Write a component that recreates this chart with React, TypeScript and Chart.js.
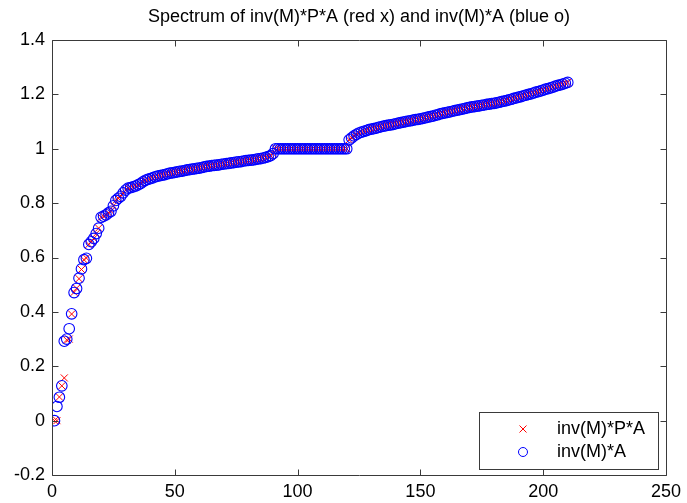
import React, { useEffect, useRef } from "react";
import { Chart, registerables } from "chart.js";

Chart.register(...registerables);

const TITLE = "Spectrum of inv(M)*P*A (red x) and inv(M)*A (blue o)";
const seriesLabels = ["inv(M)*P*A", "inv(M)*A"];
const xRange = [0, 250];
const xStep = 50;
const yRange = [-0.2, 1.4];
const yStep = 0.2;

// inv(M)*P*A  (red x)
const redValues = [
  0.000, 0.000, 0.087, 0.128, 0.157, 0.297, 0.300, 0.392, 0.472, 0.487,
  0.522, 0.556, 0.592, 0.598, 0.648, 0.658, 0.670, 0.688, 0.708, 0.748,
  0.752, 0.757, 0.764, 0.770, 0.790, 0.810, 0.818, 0.825, 0.838, 0.848,
  0.855, 0.857, 0.860, 0.863, 0.867, 0.872, 0.878, 0.884, 0.887, 0.890,
  0.893, 0.897, 0.899, 0.901, 0.903, 0.905, 0.908, 0.910, 0.911, 0.913,
  0.915, 0.917, 0.918, 0.920, 0.922, 0.923, 0.925, 0.926, 0.928, 0.929,
  0.931, 0.933, 0.935, 0.936, 0.938, 0.939, 0.940, 0.941, 0.943, 0.944,
  0.945, 0.946, 0.948, 0.949, 0.951, 0.952, 0.953, 0.955, 0.956, 0.957,
  0.958, 0.959, 0.961, 0.963, 0.964, 0.966, 0.968, 0.971, 0.975, 0.982,
  1.000, 1.000, 1.000, 1.000, 1.000, 1.000, 1.000, 1.000, 1.000, 1.000,
  1.000, 1.000, 1.000, 1.000, 1.000, 1.000, 1.000, 1.000, 1.000, 1.000,
  1.000, 1.000, 1.000, 1.000, 1.000, 1.000, 1.000, 1.000, 1.000, 1.000,
  1.033, 1.040, 1.047, 1.053, 1.058, 1.061, 1.064, 1.067, 1.070, 1.072,
  1.074, 1.076, 1.079, 1.081, 1.083, 1.085, 1.087, 1.088, 1.090, 1.092,
  1.094, 1.096, 1.098, 1.100, 1.102, 1.103, 1.105, 1.107, 1.108, 1.110,
  1.112, 1.114, 1.116, 1.118, 1.120, 1.123, 1.125, 1.128, 1.130, 1.132,
  1.134, 1.136, 1.138, 1.140, 1.142, 1.144, 1.146, 1.148, 1.150, 1.152,
  1.154, 1.155, 1.157, 1.158, 1.160, 1.161, 1.163, 1.164, 1.166, 1.167,
  1.169, 1.171, 1.173, 1.175, 1.177, 1.180, 1.182, 1.185, 1.187, 1.190,
  1.192, 1.195, 1.197, 1.200, 1.202, 1.205, 1.208, 1.210, 1.213, 1.216,
  1.219, 1.221, 1.224, 1.227, 1.230, 1.233, 1.235, 1.238, 1.241, 1.244,
];

// inv(M)*A  (blue o)
const blueValues = [
  0.000, 0.052, 0.086, 0.128, 0.292, 0.300, 0.338, 0.393, 0.471, 0.486,
  0.524, 0.558, 0.592, 0.597, 0.648, 0.658, 0.670, 0.688, 0.708, 0.748,
  0.752, 0.757, 0.764, 0.770, 0.790, 0.810, 0.818, 0.825, 0.838, 0.848,
  0.855, 0.857, 0.860, 0.863, 0.867, 0.872, 0.878, 0.884, 0.887, 0.890,
  0.893, 0.897, 0.899, 0.901, 0.903, 0.905, 0.908, 0.910, 0.911, 0.913,
  0.915, 0.917, 0.918, 0.920, 0.922, 0.923, 0.925, 0.926, 0.928, 0.929,
  0.931, 0.933, 0.935, 0.936, 0.938, 0.939, 0.940, 0.941, 0.943, 0.944,
  0.945, 0.946, 0.948, 0.949, 0.951, 0.952, 0.953, 0.955, 0.956, 0.957,
  0.958, 0.959, 0.961, 0.963, 0.964, 0.966, 0.968, 0.971, 0.975, 0.982,
  1.000, 1.000, 1.000, 1.000, 1.000, 1.000, 1.000, 1.000, 1.000, 1.000,
  1.000, 1.000, 1.000, 1.000, 1.000, 1.000, 1.000, 1.000, 1.000, 1.000,
  1.000, 1.000, 1.000, 1.000, 1.000, 1.000, 1.000, 1.000, 1.000, 1.000,
  1.033, 1.040, 1.047, 1.053, 1.058, 1.061, 1.064, 1.067, 1.070, 1.072,
  1.074, 1.076, 1.079, 1.081, 1.083, 1.085, 1.087, 1.088, 1.090, 1.092,
  1.094, 1.096, 1.098, 1.100, 1.102, 1.103, 1.105, 1.107, 1.108, 1.110,
  1.112, 1.114, 1.116, 1.118, 1.120, 1.123, 1.125, 1.128, 1.130, 1.132,
  1.134, 1.136, 1.138, 1.140, 1.142, 1.144, 1.146, 1.148, 1.150, 1.152,
  1.154, 1.155, 1.157, 1.158, 1.160, 1.161, 1.163, 1.164, 1.166, 1.167,
  1.169, 1.171, 1.173, 1.175, 1.177, 1.180, 1.182, 1.185, 1.187, 1.190,
  1.192, 1.195, 1.197, 1.200, 1.202, 1.205, 1.208, 1.210, 1.213, 1.216,
  1.219, 1.221, 1.224, 1.227, 1.230, 1.233, 1.235, 1.238, 1.241, 1.244,
];

const FONT = '"Liberation Sans", Arial, Helvetica, sans-serif';
const RED = "rgb(255,0,0)";
const BLUE = "rgb(0,0,255)";
const AXIS = "#3a3a3a";

const boxPlugin = {
  id: "matlabBox",
  afterDatasetsDraw(chart: any) {
    const { ctx, chartArea: a, scales } = chart;
    const L = Math.round(a.left) + 0.5;
    const R = Math.round(a.right) + 0.5;
    const T = Math.round(a.top) + 0.5;
    const B = Math.round(a.bottom) + 0.5;
    const tl = 6;
    ctx.save();
    ctx.strokeStyle = AXIS;
    ctx.lineWidth = 1;
    ctx.beginPath();
    ctx.rect(L, T, R - L, B - T);
    scales.x.ticks.forEach((t: any) => {
      const px = Math.round(scales.x.getPixelForValue(t.value)) + 0.5;
      ctx.moveTo(px, B);
      ctx.lineTo(px, B - tl);
      ctx.moveTo(px, T);
      ctx.lineTo(px, T + tl);
    });
    scales.y.ticks.forEach((t: any) => {
      const py = Math.round(scales.y.getPixelForValue(t.value)) + 0.5;
      ctx.moveTo(L, py);
      ctx.lineTo(L + tl, py);
      ctx.moveTo(R, py);
      ctx.lineTo(R - tl, py);
    });
    ctx.stroke();
    ctx.restore();
  },
};

const titlePlugin = {
  id: "matlabTitle",
  afterDraw(chart: any) {
    const { ctx, chartArea: a } = chart;
    ctx.save();
    ctx.fillStyle = "#000";
    ctx.font = `18px ${FONT}`;
    ctx.textAlign = "center";
    ctx.textBaseline = "middle";
    ctx.fillText(TITLE, (a.left + a.right) / 2, a.top - 23);
    ctx.restore();
  },
};

const legendPlugin = {
  id: "matlabLegend",
  afterDraw(chart: any) {
    const { ctx, chartArea: a } = chart;
    const w = 179;
    const h = 57;
    const right = Math.round(a.right) - 8;
    const bottom = Math.round(a.bottom) - 6;
    const left = right - w;
    const top = bottom - h;
    ctx.save();
    ctx.fillStyle = "#ffffff";
    ctx.fillRect(left, top, w, h);
    ctx.strokeStyle = AXIS;
    ctx.lineWidth = 1;
    ctx.strokeRect(left + 0.5, top + 0.5, w, h);
    const rows = [top + 17, top + 40];
    const mx = left + 44;
    ctx.strokeStyle = RED;
    ctx.beginPath();
    ctx.moveTo(mx - 3.5, rows[0] - 3.5);
    ctx.lineTo(mx + 3.5, rows[0] + 3.5);
    ctx.moveTo(mx + 3.5, rows[0] - 3.5);
    ctx.lineTo(mx - 3.5, rows[0] + 3.5);
    ctx.stroke();
    ctx.strokeStyle = BLUE;
    ctx.beginPath();
    ctx.arc(mx, rows[1], 4.5, 0, Math.PI * 2);
    ctx.stroke();
    ctx.fillStyle = "#000";
    ctx.font = `18px ${FONT}`;
    ctx.textBaseline = "middle";
    ctx.textAlign = "left";
    const labels = chart.data.datasets.map((d: any) => d.label);
    ctx.fillText(labels[0], left + 78, rows[0]);
    ctx.fillText(labels[1], left + 78, rows[1]);
    ctx.restore();
  },
};

export default function App() {
  const canvasRef = useRef<HTMLCanvasElement | null>(null);

  useEffect(() => {
    const canvas = canvasRef.current;
    if (!canvas) return;
    const chart = new Chart(canvas, {
      type: "scatter",
      data: {
        datasets: [
          {
            label: seriesLabels[0],
            data: redValues.map((v, i) => ({ x: i + 1, y: v })),
            pointStyle: "crossRot",
            pointRadius: 5,
            borderWidth: 1,
            borderColor: RED,
            backgroundColor: "rgba(0,0,0,0)",
            showLine: false,
            order: 1,
          },
          {
            label: seriesLabels[1],
            data: blueValues.map((v, i) => ({ x: i + 1, y: v })),
            pointStyle: "circle",
            pointRadius: 5.3,
            borderWidth: 1.1,
            borderColor: BLUE,
            backgroundColor: "rgba(0,0,0,0)",
            showLine: false,
            order: 0,
          },
        ],
      },
      options: {
        responsive: false,
        animation: false,
        devicePixelRatio: 1,
        events: [],
        layout: { padding: { left: 0, right: 17, top: 40, bottom: 0 } },
        plugins: {
          legend: { display: false },
          tooltip: { enabled: false },
          title: { display: false },
        },
        scales: {
          x: {
            type: "linear",
            min: xRange[0],
            max: xRange[1],
            grid: { display: false, drawTicks: false },
            border: { display: false },
            ticks: {
              stepSize: xStep,
              autoSkip: false,
              maxRotation: 0,
              color: "#000",
              padding: 6,
              font: { family: FONT, size: 18 },
              callback: (v: any) => String(v),
            },
            afterFit: (s: any) => {
              s.height = 28;
            },
          },
          y: {
            type: "linear",
            min: yRange[0],
            max: yRange[1],
            grid: { display: false, drawTicks: false },
            border: { display: false },
            ticks: {
              stepSize: yStep,
              autoSkip: false,
              color: "#000",
              padding: 7,
              font: { family: FONT, size: 18 },
              callback: (v: any) => String(Math.round(Number(v) * 10) / 10),
            },
            afterFit: (s: any) => {
              s.width = 52;
            },
          },
        },
      },
      plugins: [boxPlugin, titlePlugin, legendPlugin],
    });
    return () => chart.destroy();
  }, []);

  return (
    <div style={{ position: "fixed", left: 0, top: 0, width: 687, height: 503, background: "#fff" }}>
      <canvas ref={canvasRef} width={687} height={503} style={{ width: 687, height: 503, display: "block" }} />
    </div>
  );
}
